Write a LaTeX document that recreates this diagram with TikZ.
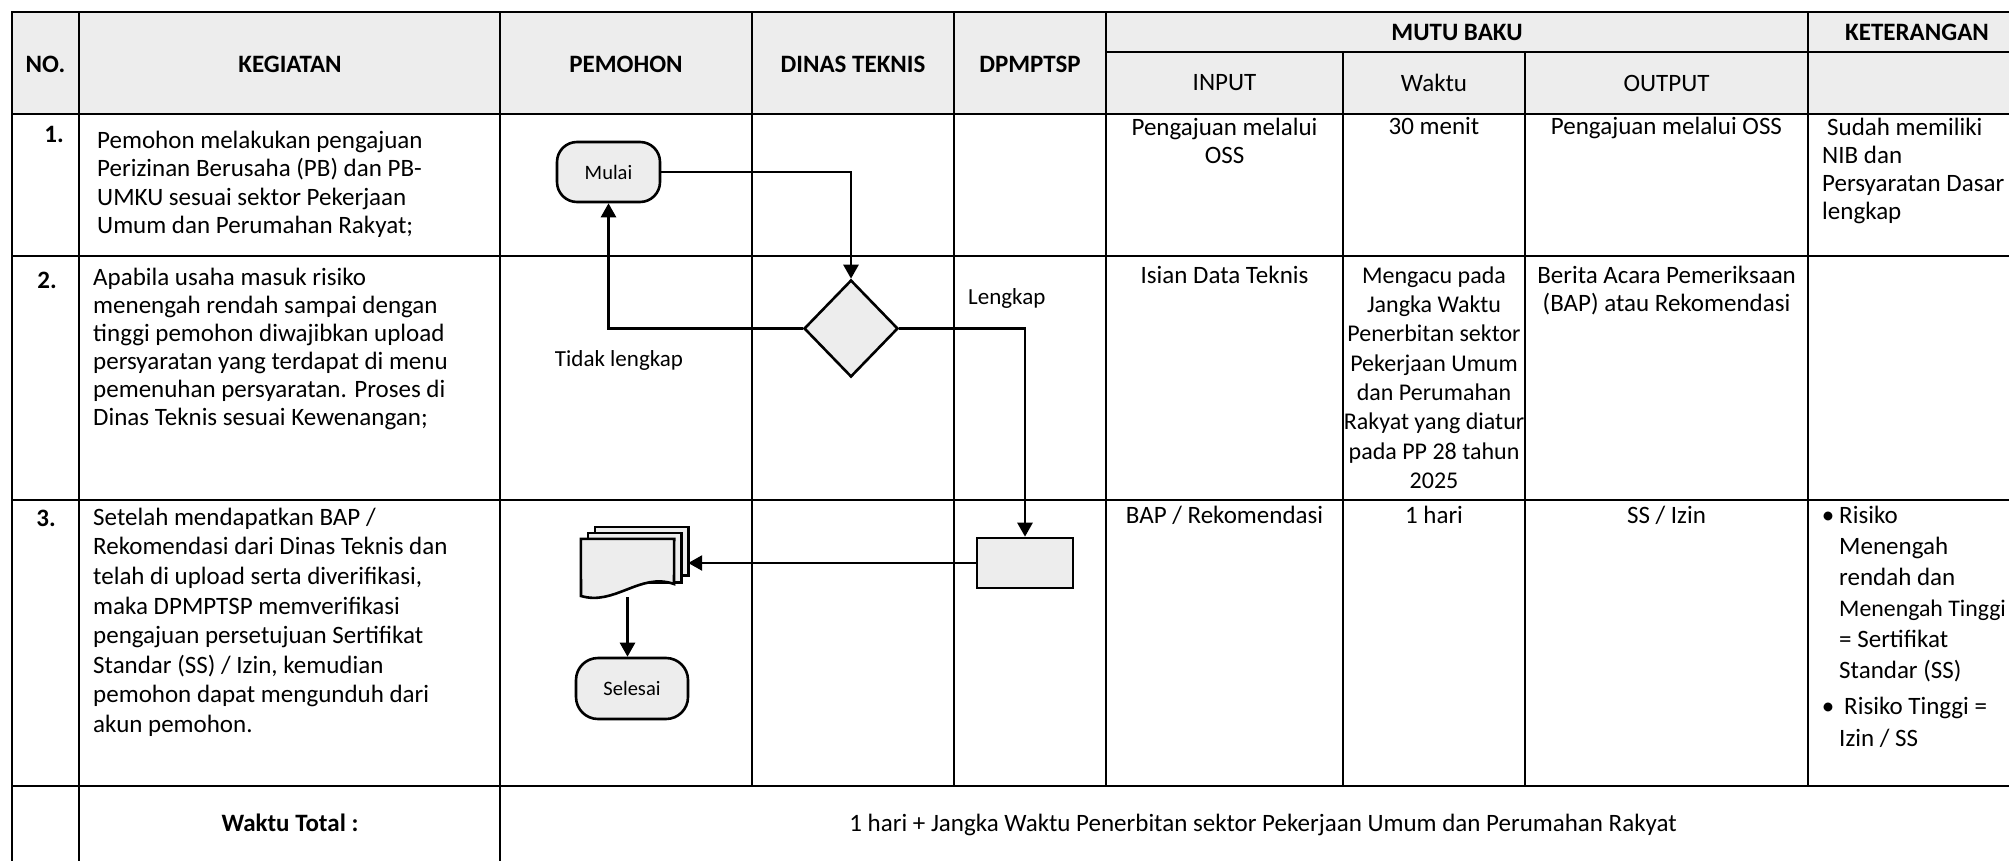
\documentclass[tikz,border=0pt]{standalone}
\usepackage{fontspec}
\setmainfont{Carlito}
\usetikzlibrary{arrows.meta,shapes.geometric}
\newcommand\myst{\rule{0pt}{20pt}}
\begin{document}
\begin{tikzpicture}[x=1pt,y=-1pt,
  grid/.style={line width=2.2pt, line cap=rect},
  stip/.style={fill=black!7},
  hd/.style={inner sep=0pt, font=\bfseries\fontsize{25}{28}\selectfont},
  tx/.style={inner sep=0pt, font=\fontsize{25}{#1}\selectfont},
  tx/.default=28,
  lbl/.style={inner sep=0pt, font=\fontsize{23}{26}\selectfont},
  shp/.style={draw, line width=2.6pt, stip},
  term/.style={shp, rectangle, rounded corners=20pt, inner sep=0pt, font=\fontsize{20.5}{24}\selectfont},
  proc/.style={shp, rectangle, inner sep=0pt},
  dia/.style={shp, diamond, inner sep=0pt},
  ghost/.style={rectangle, inner sep=0pt, draw=none},
  conn/.style={line width=2.6pt, -{Triangle[length=14pt,width=15pt]}}
]
\useasboundingbox (0,0) rectangle (2009,861);
\fill[white] (0,0) rectangle (2009,861);

% header background
\fill[stip] (12,12) rectangle (2026,114);

% grid
\draw[grid] (12,12) -- (2026,12);
\draw[grid] (1106,52) -- (2026,52);
\foreach \y in {114,256,500,786,864} \draw[grid] (12,\y) -- (2026,\y);
\foreach \x in {12,79,500,2026} \draw[grid] (\x,12) -- (\x,864);
\foreach \x in {752,954,1106,1808} \draw[grid] (\x,12) -- (\x,786);
\foreach \x in {1343,1525} \draw[grid] (\x,52) -- (\x,786);

% header texts
\node[hd] (hNo) at (45.5,64) {NO.};
\node[hd] (hKeg) at (290,64) {KEGIATAN};
\node[hd] (hPem) at (626,64) {PEMOHON};
\node[hd] (hDin) at (853,64) {DINAS TEKNIS};
\node[hd] (hDpm) at (1030,64) {DPMPTSP};
\node[hd] (hMutu) at (1457,32) {MUTU BAKU};
\node[hd] (hKet) at (1917,32) {KETERANGAN};
\node[tx] (hIn) at (1224.5,83) {INPUT};
\node[tx] (hWak) at (1434,83) {Waktu};
\node[tx] (hOut) at (1666.5,83) {OUTPUT};

% numbers
\node[hd, anchor=base east] (n1) at (64,143) {1.};
\node[hd, anchor=base east] (n2) at (57,288) {2.};
\node[hd, anchor=base east] (n3) at (56,526) {3.};

% kegiatan
\node[tx=28.5, align=left, anchor=north west] (k1) at (97,128)
  {\myst Pemohon melakukan pengajuan\\Perizinan Berusaha (PB) dan PB-\\UMKU sesuai sektor Pekerjaan\\Umum dan Perumahan Rakyat;};
\node[tx=28, align=left, anchor=north west] (k2) at (93,265)
  {\myst Apabila usaha masuk risiko\\menengah rendah sampai dengan\\tinggi pemohon diwajibkan upload\\persyaratan yang terdapat di menu\\pemenuhan persyaratan. Proses di\\Dinas Teknis sesuai Kewenangan;};
\node[tx=29.6, align=left, anchor=north west] (k3) at (93,505)
  {\myst Setelah mendapatkan BAP /\\Rekomendasi dari Dinas Teknis dan\\telah di upload serta diverifikasi,\\maka DPMPTSP memverifikasi\\pengajuan persetujuan Sertifikat\\Standar (SS) / Izin, kemudian\\pemohon dapat mengunduh dari\\akun pemohon.};

% row 1 right
\node[tx, align=center, anchor=north] (i1) at (1224.5,115) {\myst Pengajuan melalui\\OSS};
\node[tx, anchor=base] (w1) at (1434,135) {30 menit};
\node[tx, anchor=base] (o1) at (1666.5,135) {Pengajuan melalui OSS};
\node[tx, align=left, anchor=north west] (ket1) at (1822,115)
  {\myst\hspace*{5pt}Sudah memiliki\\NIB dan\\Persyaratan Dasar\\lengkap};

% row 2 right
\node[tx, anchor=base] (i2) at (1224.5,283) {Isian Data Teknis};
\node[inner sep=0pt, font=\fontsize{24}{29.3}\selectfont, align=center, anchor=north] (w2) at (1434,263)
  {\myst Mengacu pada\\Jangka Waktu\\Penerbitan sektor\\Pekerjaan Umum\\dan Perumahan\\Rakyat yang diatur\\pada PP 28 tahun\\2025};
\node[tx, align=center, anchor=north] (o2) at (1666.5,263)
  {\myst Berita Acara Pemeriksaan\\(BAP) atau Rekomendasi};

% row 3 right
\node[tx, anchor=base] (i3) at (1224.5,523) {BAP / Rekomendasi};
\node[tx, anchor=base] (w3) at (1434,523) {1 hari};
\node[tx, anchor=base] (o3) at (1666.5,523) {SS / Izin};
\node[tx, anchor=base] (b1) at (1828,523) {\textbullet};
\node[tx=31, align=left, anchor=north west] (ket3a) at (1839,503)
  {\myst Risiko\\Menengah\\rendah dan\\{\fontsize{23.8}{31}\selectfont Menengah Tinggi}\\= Sertifikat\\Standar (SS)};
\node[tx, anchor=base] (b2) at (1828,714) {\textbullet};
\node[tx=32, align=left, anchor=north west] (ket3b) at (1839,694)
  {\myst\hspace*{5pt}Risiko Tinggi =\\Izin / SS};

% total row
\node[hd, anchor=base] (wt) at (290,831) {Waktu Total :};
\node[tx, anchor=base] (tot) at (1263,831) {1 hari + Jangka Waktu Penerbitan sektor Pekerjaan Umum dan Perumahan Rakyat};

% flowchart
\node[term, minimum width=103pt, minimum height=60pt] (mulai) at (608.5,172) {Mulai};
\node[dia, minimum width=94pt, minimum height=97pt] (dec) at (851,328.5) {};
\node[proc, minimum width=96pt, minimum height=50pt] (dpm) at (1025,563) {};
\node[ghost, minimum width=93pt, minimum height=48pt] (page3) at (641.5,551) {};
\node[ghost, minimum width=93pt, minimum height=49pt] (page2) at (634.5,557.5) {};
\node[ghost, minimum width=93pt, minimum height=58pt] (doc) at (627.5,568) {};
\node[term, minimum width=112pt, minimum height=61pt, rounded corners=22pt] (sel) at (632,688.5) {Selesai};

\draw[shp] (page3.south west) rectangle (page3.north east);
\draw[shp] (page2.south west) rectangle (page2.north east);
\draw[shp] (doc.north west) -- (doc.north east) -- (674,584)
  .. controls (640,572) and (615,606) .. (581,596) -- cycle;

\draw[conn] (mulai.east) -| (dec.north);
\draw[conn] (dec.west) -| (mulai.south);
\draw[conn] (dec.east) -| (dpm.north);
\draw[conn] (dpm.west) -- (dpm.west -| page3.east);
\draw[conn] (doc.south) -- (doc.south |- sel.north);

\node[lbl, anchor=base west] (lk) at (968,304) {Lengkap};
\node[lbl, anchor=base] (tl) at (619,366) {Tidak lengkap};
\end{tikzpicture}
\end{document}
